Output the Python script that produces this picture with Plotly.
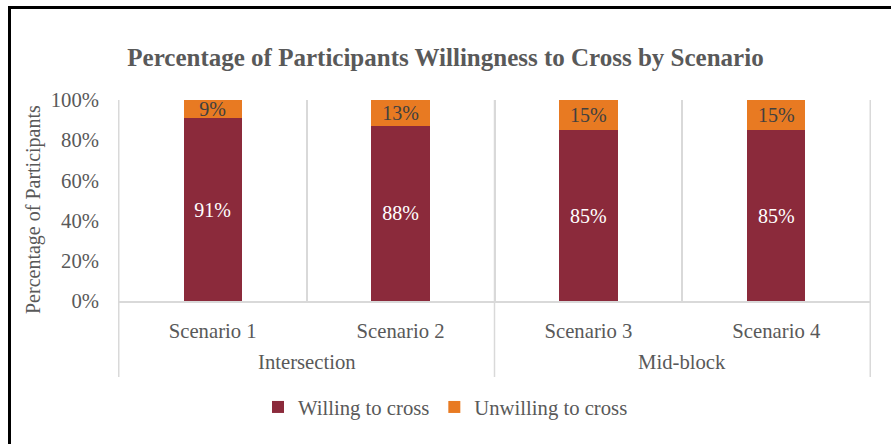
import plotly.graph_objects as go

# Chart data
groups = ["Intersection", "Intersection", "Mid-block", "Mid-block"]
scenarios = ["Scenario 1", "Scenario 2", "Scenario 3", "Scenario 4"]
willing = [91, 88, 85, 85]
unwilling = [9, 13, 15, 15]
y_ticks = [0, 20, 40, 60, 80, 100]

W, H = 891, 444
ML, MR, MT, MB = 118, 20, 100, 143
PW, PH = W - ML - MR, H - MT - MB

TEXT = "#595959"
GRID = "#d9d9d9"
FONT = "Liberation Serif"
FS = 20.7

fig = go.Figure()
fig.add_trace(go.Bar(
    x=scenarios, y=willing, name="Willing to cross",
    marker=dict(color="#8b2a3b", line=dict(width=0)),
    text=[f"{v}%" for v in willing], textposition="inside",
    insidetextanchor="middle", constraintext="none",
    textfont=dict(color="white", size=20, family=FONT),
))
fig.add_trace(go.Bar(
    x=scenarios, y=unwilling, name="Unwilling to cross",
    marker=dict(color="#e87a22", line=dict(width=0)),
    text=[f"{v}%" for v in unwilling], textposition="inside",
    insidetextanchor="middle", constraintext="none",
    textfont=dict(color="#404040", size=20, family=FONT),
))


def px_x(p):
    return (p - ML) / PW


def px_y(p):
    return (H - MB - p) / PH


# Group spans along the category axis, derived from the group list
spans = []
for i, g in enumerate(groups):
    if spans and spans[-1][0] == g:
        spans[-1][2] = i
    else:
        spans.append([g, i, i])

# Second-level labels and divider lines that run through the label band
bottom = px_y(377)
edges = set()
for g, i0, i1 in spans:
    fig.add_annotation(text=g, x=(i0 + i1) / 2, xref="x", y=px_y(362),
                       yref="paper", yanchor="middle", showarrow=False,
                       font=dict(size=FS, color=TEXT, family=FONT))
    edges.update([i0 - 0.5, i1 + 0.5])
for e in sorted(edges):
    fig.add_shape(type="line", xref="x", yref="paper", x0=e, x1=e,
                  y0=bottom, y1=1, line=dict(color=GRID, width=1.5),
                  layer="below")

# Vertical axis title
fig.add_annotation(text="Percentage of Participants", textangle=-90,
                   x=px_x(33), xref="paper", y=px_y(210), yref="paper",
                   xanchor="center", yanchor="middle", showarrow=False,
                   font=dict(size=20, color=TEXT, family=FONT))

# Outer frame around the whole chart
fig.add_shape(type="rect", xref="paper", yref="paper",
              x0=px_x(9.5), x1=px_x(W + 10), y0=px_y(H + 10), y1=px_y(7.5),
              line=dict(color="black", width=3), fillcolor="rgba(0,0,0,0)",
              layer="above")

fig.update_layout(
    width=W, height=H,
    margin=dict(l=ML, r=MR, t=MT, b=MB),
    paper_bgcolor="white", plot_bgcolor="white",
    barmode="stack", barnorm="percent", bargap=0.69,
    font=dict(family=FONT, size=FS, color=TEXT),
    title=dict(text="<b>Percentage of Participants Willingness to Cross by Scenario</b>",
               x=0.5, xanchor="center", y=1 - 57 / H, yanchor="middle",
               font=dict(size=25, color=TEXT, family=FONT)),
    showlegend=True,
    legend=dict(orientation="h", x=0.5, xanchor="center",
                xref="container", y=1 - 407 / H, yref="container", yanchor="middle",
                font=dict(size=FS, color=TEXT), traceorder="normal", itemwidth=30),
    xaxis=dict(
        type="category", tickson="boundaries", showgrid=True, gridcolor=GRID,
        gridwidth=1.5, showline=True, linecolor=GRID, linewidth=1.5, ticks="",
        ticklabelstandoff=10, tickfont=dict(size=FS, color=TEXT),
    ),
    yaxis=dict(
        range=[0, 100], tickvals=y_ticks, ticktext=[f"{v}%" for v in y_ticks],
        showgrid=False, zeroline=False, showline=False, ticks="",
        ticklabelstandoff=18, tickfont=dict(size=FS, color=TEXT),
    ),
)

fig.write_html("out.html")
